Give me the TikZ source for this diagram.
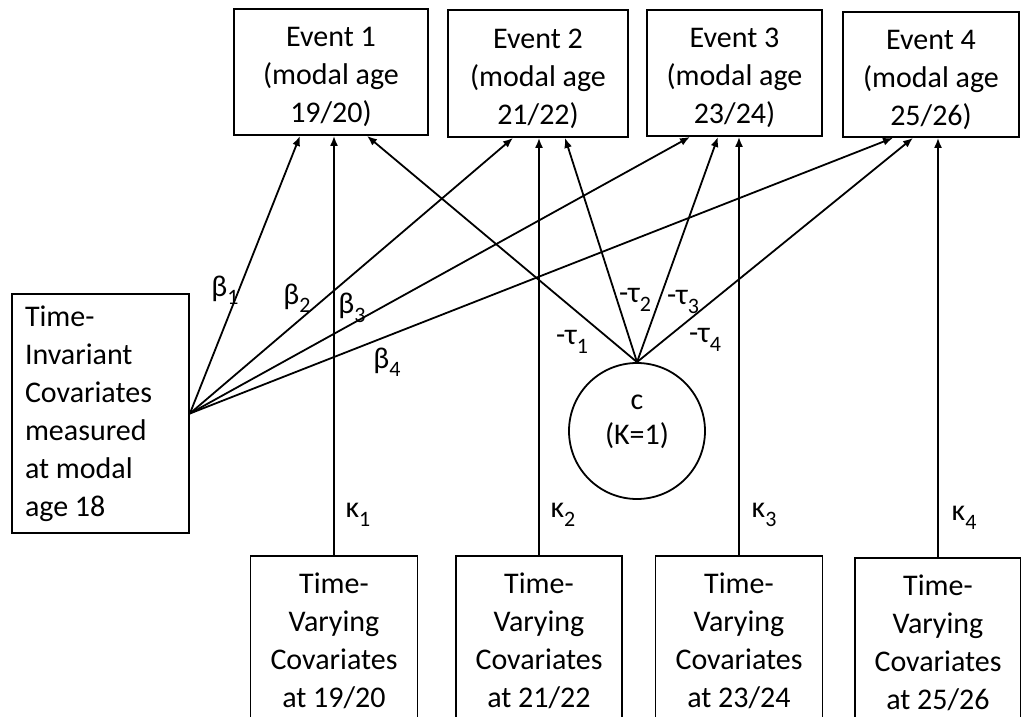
\documentclass[tikz,border=0pt]{standalone}
\usepackage{fontspec}
\setmainfont{Carlito}
\usetikzlibrary{arrows.meta}
\newcommand{\lsub}[1]{\raisebox{-0.28em}{\fontsize{22}{22}\selectfont #1}}
\begin{document}
\begin{tikzpicture}[x=1pt,y=-1pt,
  box/.style={draw, line width=1.8pt, align=center, inner sep=0pt, font=\fontsize{30}{38}\selectfont},
  arr/.style={line width=1.8pt, -{Latex[length=10pt,width=8pt]}},
  lbl/.style={font=\fontsize{30}{36}\selectfont, inner sep=0pt}]
\useasboundingbox (0,0) rectangle (1021,717);
\clip (0,0) rectangle (1021,717);
% events
\node[box, minimum width=194pt, minimum height=126pt] (e1) at (331,72) {\rule{0pt}{30pt}Event 1\\(modal age\\19/20)};
\node[box, minimum width=180pt, minimum height=127pt] (e2) at (538,73.5) {\rule{0pt}{30pt}Event 2\\(modal age\\21/22)};
\node[box, minimum width=175pt, minimum height=126pt] (e3) at (734.5,73) {\rule{0pt}{30pt}Event 3\\(modal age\\23/24)};
\node[box, minimum width=176pt, minimum height=125pt] (e4) at (931,74.5) {\rule{0pt}{30pt}Event 4\\(modal age\\25/26)};
% time-invariant
\node[box, align=flush left, text width=151pt, minimum width=177pt, minimum height=239pt] (ti) at (100.5,413.5)
  {Time-\\Invariant\\Covariates\\measured\\at modal\\age 18};
% latent class
\node[box, circle, minimum size=136pt] (c) at (637,431) {};
\node[lbl, align=center, font=\fontsize{30}{35}\selectfont] (ctext) at (637,422) {c\\(K=1)};
% time-varying
\node[box, anchor=north, minimum width=167pt, minimum height=170pt] (tv1) at (334,555) {Time-\\Varying\\Covariates\\at 19/20};
\node[box, anchor=north, minimum width=166pt, minimum height=170pt] (tv2) at (539,555) {Time-\\Varying\\Covariates\\at 21/22};
\node[box, anchor=north, minimum width=167pt, minimum height=170pt] (tv3) at (739,555) {Time-\\Varying\\Covariates\\at 23/24};
\node[box, anchor=north, minimum width=166pt, minimum height=170pt] (tv4) at (938,557) {Time-\\Varying\\Covariates\\at 25/26};
% beta paths
\draw[arr] (ti.east) -- ([xshift=-31pt]e1.south);
\draw[arr] (ti.east) -- ([xshift=-25pt]e2.south);
\draw[arr] (ti.east) -- ([xshift=-44.5pt]e3.south);
\draw[arr] (ti.east) -- ([xshift=-38pt]e4.south);
% tau paths
\draw[arr] (c.north) -- ([xshift=36pt]e1.south);
\draw[arr] (c.north) -- ([xshift=27pt]e2.south);
\draw[arr] (c.north) -- ([xshift=-16.5pt]e3.south);
\draw[arr] (c.north) -- ([xshift=-18pt]e4.south);
% kappa paths
\draw[arr] (tv1.north) -- (tv1.north |- e1.south);
\draw[arr] (tv2.north) -- (tv2.north |- e2.south);
\draw[arr] (tv3.north) -- (tv3.north |- e3.south);
\draw[arr] (tv4.north) -- (tv4.north |- e4.south);
% labels
\node[lbl] (b1) at (225,290) {β\lsub{1}};
\node[lbl] (b2) at (297,298) {β\lsub{2}};
\node[lbl] (b3) at (352,308) {β\lsub{3}};
\node[lbl] (b4) at (387,362) {β\lsub{4}};
\node[lbl] (t1) at (572,342) {-τ\lsub{1}};
\node[lbl] (t2) at (635,300) {-τ\lsub{2}};
\node[lbl] (t3) at (683,302) {-τ\lsub{3}};
\node[lbl] (t4) at (705,340) {-τ\lsub{4}};
\node[lbl] (k1) at (358,515) {κ\lsub{1}};
\node[lbl] (k2) at (563,515) {κ\lsub{2}};
\node[lbl] (k3) at (764,515) {κ\lsub{3}};
\node[lbl] (k4) at (964,518) {κ\lsub{4}};
\end{tikzpicture}
\end{document}
